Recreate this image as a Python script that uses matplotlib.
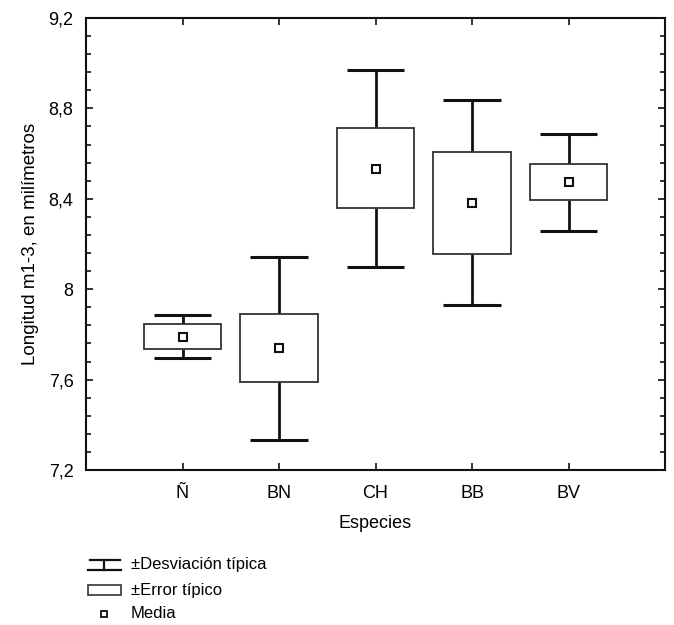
import matplotlib
matplotlib.use("Agg")
import matplotlib.pyplot as plt
from matplotlib.patches import Rectangle
from matplotlib.lines import Line2D
from matplotlib.ticker import FixedLocator, MultipleLocator

plt.rcParams['font.family'] = ['Liberation Sans', 'DejaVu Sans']

categories = ["Ñ", "BN", "CH", "BB", "BV"]
means = [7.790, 7.738, 8.533, 8.381, 8.473]
se_low = [7.737, 7.589, 8.358, 8.157, 8.393]
se_high = [7.845, 7.889, 8.713, 8.608, 8.553]
sd_low = [7.696, 7.333, 8.100, 7.930, 8.256]
sd_high = [7.884, 8.141, 8.970, 8.838, 8.687]
yticks = [7.2, 7.6, 8.0, 8.4, 8.8, 9.2]
ytick_labels = ["7,2", "7,6", "8", "8,4", "8,8", "9,2"]

fig = plt.figure(figsize=(6.74, 6.25), dpi=100)
ax = fig.add_axes([86/674, 1-470/625, 579/674, 452/625])

box_w = 0.8
cap_w = 0.6
xs = list(range(1, len(categories)+1))
for x, m, sl, sh, dl, dh in zip(xs, means, se_low, se_high, sd_low, sd_high):
    ax.vlines(x, sh, dh, color='#111111', lw=2.0, zorder=2)
    ax.vlines(x, dl, sl, color='#111111', lw=2.0, zorder=2)
    ax.hlines([dl, dh], x-cap_w/2, x+cap_w/2, color='#111111', lw=2.2, zorder=2)
    ax.add_patch(Rectangle((x-box_w/2, sl), box_w, sh-sl, facecolor='white',
                           edgecolor='#333333', lw=1.3, zorder=3))
    ax.plot([x], [m], marker='s', ms=6, mfc='white', mec='#111111', mew=1.5,
            ls='none', zorder=4)

ax.set_xlim(0, 6)
ax.set_ylim(7.2, 9.2)
ax.set_xticks(xs)
ax.set_xticklabels(categories, fontsize=13)
ax.yaxis.set_major_locator(FixedLocator(yticks))
ax.set_yticklabels(ytick_labels, fontsize=13)
ax.yaxis.set_minor_locator(MultipleLocator(0.08))
ax.tick_params(axis='both', which='both', direction='in', top=True, right=True,
               width=1.2, color='#111111')
ax.tick_params(axis='both', which='major', length=5)
ax.tick_params(axis='x', which='major', pad=11)
ax.tick_params(axis='y', which='major', pad=9)
ax.tick_params(axis='y', which='minor', length=3.5)
ax.tick_params(axis='x', which='minor', bottom=False, top=False)
for s in ax.spines.values():
    s.set_linewidth(1.5)
    s.set_color('#111111')

ax.set_xlabel("Especies", fontsize=13, labelpad=9)
ax.set_ylabel("Longitud m1-3, en milímetros", fontsize=13.5, labelpad=7)

# Legend drawn in figure pixel coordinates
def fx(px):
    return px / 674
def fy(py):
    return 1 - py / 625

lc = '#111111'
# Whisker symbol
y1 = 565
fig.add_artist(Line2D([fx(90), fx(120)], [fy(y1-5), fy(y1-5)], color=lc, lw=1.6))
fig.add_artist(Line2D([fx(88), fx(121)], [fy(y1+5), fy(y1+5)], color=lc, lw=1.6))
fig.add_artist(Line2D([fx(104), fx(104)], [fy(y1-5), fy(y1+5)], color=lc, lw=1.6))
fig.text(fx(131), fy(y1), "±Desviación típica", fontsize=12, va='center', ha='left')
# Box symbol
y2 = 590
fig.add_artist(Rectangle((fx(88), fy(y2+5)), fx(121)-fx(88), fy(y2-5)-fy(y2+5),
                         transform=fig.transFigure, facecolor='white', edgecolor='#333333', lw=1.2))
fig.text(fx(131), fy(y2), "±Error típico", fontsize=12, va='center', ha='left')
# Mean symbol
y3 = 614
fig.add_artist(Line2D([fx(104)], [fy(y3)], marker='s', ms=5, mfc='white', mec=lc, mew=1.3, ls='none'))
fig.text(fx(131), fy(y3), "Media", fontsize=12, va='center', ha='left')

fig.savefig("out.png", dpi=100)
